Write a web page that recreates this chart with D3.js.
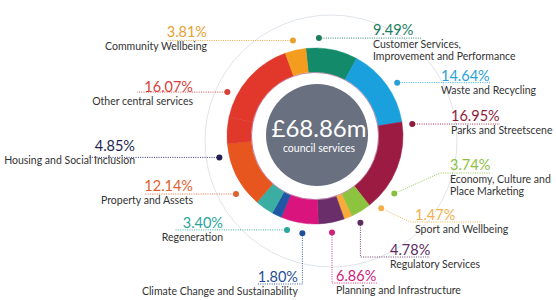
<!DOCTYPE html>
<html>
<head>
<meta charset="utf-8">
<script src="https://cdn.jsdelivr.net/npm/d3@7"></script>
<style>
  body { margin: 0; background: #fff; }
  svg { font-family: Lato, "Open Sans", sans-serif; }
</style>
</head>
<body>
<svg></svg>
<script>
// services, clockwise from the top of the ring
var services = ["Customer Services, Improvement and Performance", "Waste and Recycling", "Parks and Streetscene",
                "Economy, Culture and Place Marketing", "Sport and Wellbeing", "Regulatory Services",
                "Planning and Infrastructure", "Climate Change and Sustainability", "Regeneration",
                "Property and Assets", "Housing and Social Inclusion", "Other central services", "Community Wellbeing"]
var shares = [9.49, 14.64, 16.95, 3.74, 1.47, 4.78, 6.86, 1.80, 3.40, 12.14, 4.85, 16.07, 3.81]
// name split over lines as printed
var nameLines = [["Customer Services,", "Improvement and Performance"], ["Waste and Recycling"], ["Parks and Streetscene"],
                 ["Economy, Culture and", "Place Marketing"], ["Sport and Wellbeing"], ["Regulatory Services"],
                 ["Planning and Infrastructure"], ["Climate Change and Sustainability"], ["Regeneration"],
                 ["Property and Assets"], ["Housing and Social Inclusion"], ["Other central services"], ["Community Wellbeing"]]
var totalLabel = "£68.86m"
var totalSub = "council services"

var ringColors = ["#138a6a", "#1aa0dc", "#9c1b42", "#8cc43f", "#f6ab3b", "#6a2f6a", "#d9157d",
                  "#1f57a4", "#3aaea3", "#e8561f", "#e0392c", "#e2372b", "#f39c1d"]
var textColors = ["#1b7d5e", "#2aa0d8", "#8d1c3d", "#8bbf3f", "#f2b04a", "#5c2c5e", "#d0207a",
                  "#1f4f97", "#2aa59a", "#e06030", "#231f50", "#d8403a", "#e8a030"]

// label layout: dot angle (deg), text anchor, text x, percent baseline, leader line points (null y = dot's y)
var layout = [
    {angle: 2.3,   anchor: "start", x: 373, y: 35,  line: [[422, null]]},
    {angle: 57,    anchor: "start", x: 441, y: 81,  line: [[491, null]]},
    {angle: 83,    anchor: "start", x: 451, y: 121, line: [[500, null]]},
    {angle: 126,   anchor: "start", x: 450, y: 170, line: [[440, 173], [490, 173]]},
    {angle: 137.5, anchor: "start", x: 415, y: 220, line: [[410, 222], [482, 222]]},
    {angle: 152.4, anchor: "start", x: 390, y: 255, line: [["dot", 257], [430, 257]]},
    {angle: 170,   anchor: "start", x: 336, y: 281, line: [["dot", 283], [377, 283]]},
    {angle: 187.4, anchor: "end",   x: 298, y: 282, line: [["dot", 284], [257, 284]]},
    {angle: 196.6, anchor: "end",   x: 223, y: 228, line: [[175, null]]},
    {angle: 233.7, anchor: "end",   x: 193, y: 191, line: [[145, null]]},
    {angle: 257.4, anchor: "end",   x: 135, y: 151, line: [[88, null]]},
    {angle: 296.6, anchor: "end",   x: 193, y: 92,  line: [[137, null]]},
    {angle: 347,   anchor: "end",   x: 207, y: 37,  line: [[167, null]]}
]

var dimensions = { width: 556, height: 300, cx: 315, cy: 136 }

var svg = d3.select("svg")
            .attr("width", dimensions.width)
            .attr("height", dimensions.height)

// faint outer guide circle
svg.append("circle")
   .attr("cx", 331).attr("cy", 141).attr("r", 126)
   .attr("fill", "none")
   .attr("stroke", "#dfe4ea")
   .attr("stroke-width", 1)

var g = svg.append("g")
           .attr("transform", "translate(" + dimensions.cx + "," + dimensions.cy + ")")

var start = -6 * Math.PI / 180
var pie = d3.pie().sort(null).value(d => d).startAngle(start).endAngle(start + 2 * Math.PI)
var arc = d3.arc().innerRadius(64).outerRadius(88)

g.selectAll(".slice")
 .data(pie(shares))
 .enter()
 .append("path")
 .attr("class", "slice")
 .attr("d", arc)
 .attr("fill", (d, i) => ringColors[i])
 .attr("stroke", (d, i) => ringColors[i])
 .attr("stroke-width", 0.5)

// thin line on the inner edge
g.append("circle").attr("r", 63.5)
 .attr("fill", "none").attr("stroke", "#9a3070").attr("stroke-width", 0.8).attr("opacity", 0.6)

// centre disc
g.append("circle").attr("cx", 2).attr("cy", -1).attr("r", 51).attr("fill", "#69707f")
g.append("text").attr("x", 4).attr("y", 1)
 .attr("text-anchor", "middle").attr("fill", "#fff")
 .attr("font-size", 24).text(totalLabel)
g.append("text").attr("x", 4).attr("y", 16)
 .attr("text-anchor", "middle").attr("fill", "#fff")
 .attr("font-size", 10.5).text(totalSub)

// leader lines, dots and labels
var labels = svg.append("g")
layout.forEach((L, i) => {
    var p = d3.pointRadial(L.angle * Math.PI / 180, 98)
    var dot = [dimensions.cx + p[0], dimensions.cy + p[1]]
    var pts = [dot].concat(L.line.map(q => [q[0] === "dot" ? dot[0] : q[0], q[1] === null ? dot[1] : q[1]]))

    labels.append("path")
          .attr("d", d3.line()(pts))
          .attr("fill", "none")
          .attr("stroke", textColors[i])
          .attr("stroke-width", 0.9)
          .attr("stroke-dasharray", "1,1.3")

    labels.append("circle")
          .attr("cx", dot[0]).attr("cy", dot[1]).attr("r", 3)
          .attr("fill", textColors[i])

    labels.append("text")
          .attr("x", L.x).attr("y", L.y)
          .attr("text-anchor", L.anchor)
          .attr("fill", textColors[i])
          .attr("font-size", 14.5)
          .text(shares[i].toFixed(2) + "%")

    nameLines[i].forEach((t, j) => {
        labels.append("text")
              .attr("x", L.x).attr("y", L.y + 12.5 + j * 12)
              .attr("text-anchor", L.anchor)
              .attr("fill", "#333")
              .attr("font-size", 10.5)
              .text(t)
    })
})
</script>
</body>
</html>
